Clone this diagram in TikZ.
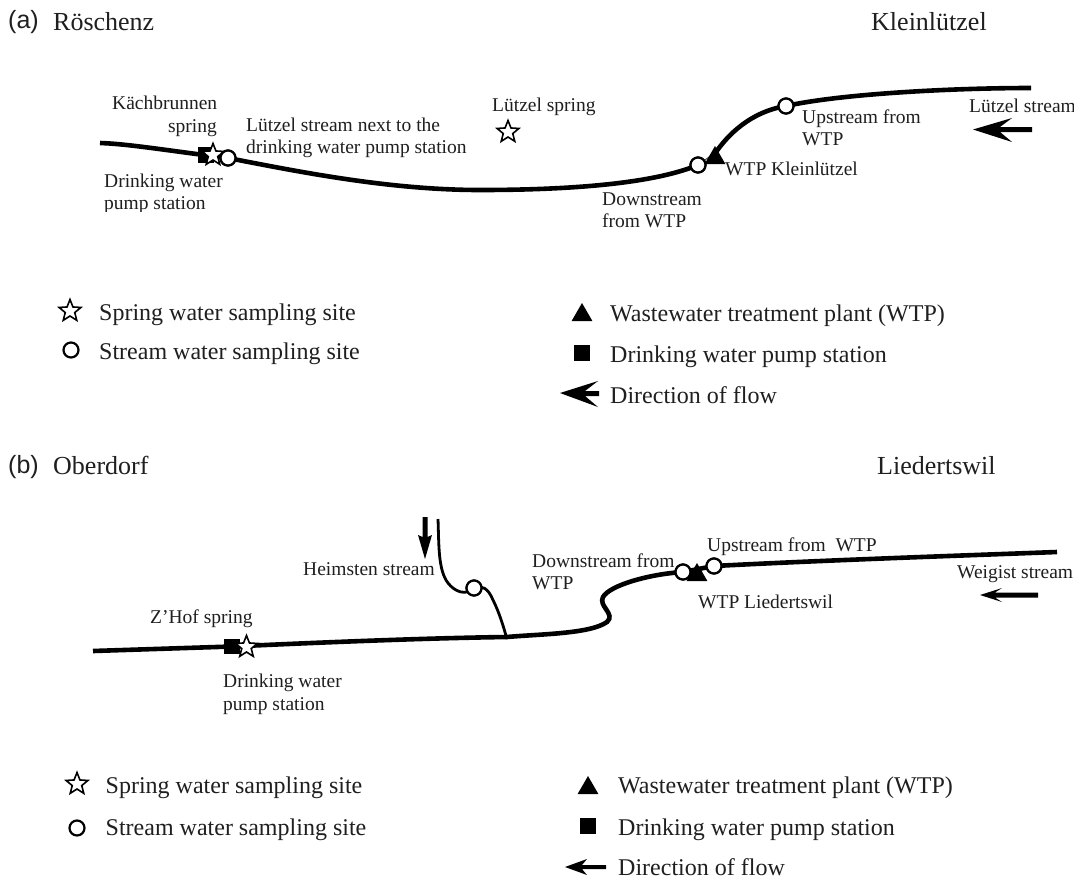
\documentclass[tikz,border=0pt]{standalone}
\usepackage{fontspec}
\setmainfont{Liberation Serif}
\newfontfamily\panelfont{Liberation Sans}
\usetikzlibrary{shapes.geometric}
\tikzset{
  small/.style={anchor=base west,inner sep=0pt,text=black!88,font=\fontsize{19.5}{22}\selectfont},
  smallright/.style={small,anchor=base east},
  legendtext/.style={anchor=base west,inner sep=0pt,text=black!88,font=\fontsize{24}{26}\selectfont},
  head/.style={anchor=base west,inner sep=0pt,text=black!88,font=\fontsize{26}{28}\selectfont},
  panel/.style={anchor=base west,inner sep=0pt,text=black!88,font=\panelfont\fontsize{25}{28}\selectfont},
  river/.style={draw=black,line width=4.6pt},
  tributary/.style={draw=black,line width=2.8pt},
  site/.style={circle,draw=black,fill=white,line width=2.2pt,minimum size=15pt,inner sep=0pt},
  spring/.style={star,star points=5,star point ratio=2.3,draw=black,fill=white,line width=1.6pt,minimum size=23pt,inner sep=0pt},
  pump/.style={rectangle,fill=black,minimum size=15.5pt,inner sep=0pt},
  plant/.style={regular polygon,regular polygon sides=3,fill=black,minimum size=24pt,inner sep=0pt},
  head arrow/.style={fill=black,draw=none}
}
\begin{document}
\begin{tikzpicture}[x=1pt,y=-1pt]
\useasboundingbox (0,0) rectangle (1074,879);
\fill[white] (0,0) rectangle (1074,879);

% ---------- panel (a) ----------
\node[panel] (pa) at (8,28) {(a)};
\node[head] (roe) at (53,30) {Röschenz};
\node[head] (kle) at (871,30) {Kleinlützel};

\coordinate (aS) at (100,143);
\coordinate (aM) at (480,190);
\coordinate (aE) at (1031,88);
\node[pump] (aPump) at (206,155) {};
\node[site] (aC1) at (228,158) {};
\node[site] (aC2) at (698,165) {};
\node[site] (aC3) at (786,106) {};
\draw[river] (aS) .. controls (130,144) and (170,151) .. (aC1.center)
  .. controls (300,172) and (390,190) .. (aM)
  .. controls (560,190) and (650,185) .. (aC2.center);
\draw[river] (716,152) .. controls (728,135) and (750,112) .. (aC3.center)
  .. controls (840,94) and (950,88) .. (aE);
\draw[black!70,line width=1pt] (aC2.center) -- (716,152);
\node[plant] (aT) at (715,158) {};
\node[site] at (aC2) {};
\node[site] at (aC3) {};
\node[pump] at (aPump) {};
\node[spring] (aStar) at (213,155) {};
\node[site] at (aC1) {};
\node[spring] (aStar2) at (508,132) {};

\node[small] (t1) at (112,109) {Kächbrunnen};
\node[smallright] (t2) at (217,132) {spring};
\node[small] (t3) at (246,131) {Lützel stream next to the};
\node[small] (t4) at (246,153) {drinking water pump station};
\node[small] (t5) at (104,187) {Drinking water};
\node[small] (t6) at (104,209) {pump station};
\fill[white] (100,212) rectangle (240,222);
\node[small] (t7) at (492,111) {Lützel spring};
\node[small] (t8) at (802,123) {Upstream from};
\node[small] (t9) at (802,145) {WTP};
\node[small] (t10) at (725,175) {WTP Kleinlützel};
\node[small] (t11) at (602,205) {Downstream};
\node[small] (t12) at (602,227) {from WTP};
\node[small] (t13) at (969,112) {Lützel stream};
\fill[head arrow] (973,129.5) -- (1012,118) -- (1000,127) -- (1032,127) -- (1032,132) -- (1000,132) -- (1012,142) -- cycle;

% legend (a)
\node[spring] (la1) at (70,311) {};
\node[site] (la2) at (71,350) {};
\node[plant] (la3) at (582,315) {};
\node[pump] (la4) at (582,353) {};
\fill[head arrow] (560,393) -- (598,381) -- (585,391) -- (599,391) -- (599,396) -- (585,396) -- (598,407) -- cycle;
\node[legendtext] (lt1) at (99,320) {Spring water sampling site};
\node[legendtext] (lt2) at (99,359) {Stream water sampling site};
\node[legendtext] (lt3) at (610,321) {Wastewater treatment plant (WTP)};
\node[legendtext] (lt4) at (610,362) {Drinking water pump station};
\node[legendtext] (lt5) at (610,403) {Direction of flow};

% ---------- panel (b) ----------
\node[panel] (pb) at (8,473) {(b)};
\node[head] (obe) at (53,474) {Oberdorf};
\node[head] (lie) at (877,474) {Liedertswil};

\coordinate (bS) at (93,651);
\coordinate (bJ) at (507,637);
\coordinate (bE) at (1057,552);
\coordinate (bH) at (438,519);
\node[pump] (bPump) at (232,646.5) {};
\node[site] (bC1) at (683,572) {};
\node[site] (bC2) at (714,566) {};
\node[site] (bC3) at (474,588) {};
\draw[river] (bS) -- (bPump.center) .. controls (330,642) and (430,638) .. (bJ)
  .. controls (540,634) and (590,634) .. (607,622)
  .. controls (616,614) and (598,606) .. (603,597)
  .. controls (610,585) and (650,574) .. (bC1.center)
  -- (bC2.center) .. controls (830,560) and (950,556) .. (bE);
\draw[tributary] (bH) .. controls (439,545) and (438,570) .. (448,583)
  .. controls (455,592) and (466,596) .. (bC3.center);
\draw[tributary] (bC3.center) .. controls (482,585) and (488,588) .. (493,600)
  .. controls (499,612) and (503,625) .. (507,639);
\node[site] at (bC3) {};
\node[site] at (bC1) {};
\node[site] at (bC2) {};
\node[plant] (bT) at (697,575) {};
\node[pump] at (bPump) {};
\node[spring] (bStar) at (246.5,647) {};

\node[small] (u1) at (303,575) {Heimsten stream};
\node[small] (u2) at (532,567) {Downstream from};
\node[small] (u3) at (532,589) {WTP};
\node[small] (u4) at (707,551) {Upstream from\ \ WTP};
\node[small] (u5) at (698,608) {WTP Liedertswil};
\node[small] (u6) at (957,578) {Weigist stream};
\node[small] (u7) at (150,623) {Z’Hof spring};
\node[small] (u8) at (223,687) {Drinking water};
\node[small] (u9) at (223,710) {pump station};

\fill[head arrow] (425,559) -- (418,535) -- (422.5,537) -- (422.5,517) -- (427.5,517) -- (427.5,537) -- (432,535) -- cycle;
\fill[head arrow] (980,595) -- (1002,588) -- (995,592.5) -- (1038,592.5) -- (1038,597.5) -- (995,597.5) -- (1002,602) -- cycle;

% legend (b)
\node[spring] (lb1) at (77,784) {};
\node[site] (lb2) at (77,828) {};
\node[plant] (lb3) at (588,788) {};
\node[pump] (lb4) at (588,826) {};
\fill[head arrow] (565,867) -- (587,859) -- (582,865) -- (606,865) -- (606,869) -- (582,869) -- (587,875) -- cycle;
\node[legendtext] (mt1) at (105.5,793) {Spring water sampling site};
\node[legendtext] (mt2) at (105.5,835) {Stream water sampling site};
\node[legendtext] (mt3) at (618,793) {Wastewater treatment plant (WTP)};
\node[legendtext] (mt4) at (618,835) {Drinking water pump station};
\node[legendtext] (mt5) at (618,875.5) {Direction of flow};
\end{tikzpicture}
\end{document}
